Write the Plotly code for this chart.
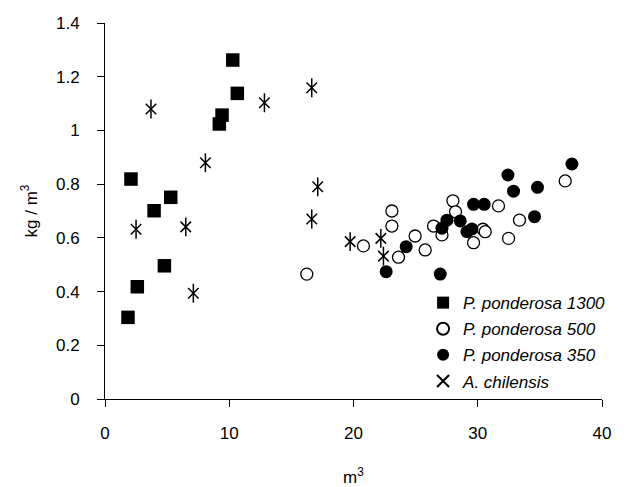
import plotly.graph_objects as go

# P. ponderosa 1300 (filled squares)
pp1300_x = [10.28, 10.65, 9.42, 9.20, 2.09, 5.29, 3.95, 4.78, 2.60, 1.85]
pp1300_y = [1.262, 1.138, 1.057, 1.024, 0.819, 0.751, 0.701, 0.496, 0.418, 0.304]

# P. ponderosa 500 (open circles)
pp500_x = [16.24, 20.80, 23.09, 23.09, 23.62, 24.96, 25.77, 26.44, 27.12, 28.00,
           28.21, 29.66, 30.42, 30.60, 31.67, 32.48, 33.36, 37.04]
pp500_y = [0.465, 0.570, 0.700, 0.644, 0.528, 0.607, 0.555, 0.644, 0.611, 0.738,
           0.697, 0.582, 0.632, 0.623, 0.719, 0.598, 0.666, 0.812]

# P. ponderosa 350 (filled circles)
pp350_x = [22.63, 24.24, 26.98, 27.12, 27.52, 28.59, 29.13, 29.53, 29.66, 30.52,
           32.43, 32.88, 34.81, 34.57, 37.58]
pp350_y = [0.474, 0.567, 0.465, 0.636, 0.666, 0.663, 0.623, 0.633, 0.725, 0.725,
           0.834, 0.774, 0.788, 0.679, 0.875]

# A. chilensis (asterisks)
ac_x = [16.64, 12.83, 3.70, 8.08, 17.12, 16.64, 2.50, 6.50, 7.11, 19.73, 22.20, 22.41]
ac_y = [1.159, 1.103, 1.080, 0.880, 0.790, 0.670, 0.632, 0.641, 0.394, 0.586, 0.598, 0.532]

x_ticks = [0, 10, 20, 30, 40]
y_ticks = [0, 0.2, 0.4, 0.6, 0.8, 1.0, 1.2, 1.4]
y_ticktext = ["0", "0.2", "0.4", "0.6", "0.8", "1", "1.2", "1.4"]

FONT = "Liberation Sans, Arial, sans-serif"

fig = go.Figure()
fig.add_trace(go.Scatter(
    x=pp1300_x, y=pp1300_y, mode="markers", name="P. ponderosa 1300",
    legendgroup="a",
    marker=dict(symbol="square", size=13.5, color="black", line=dict(width=0))))
fig.add_trace(go.Scatter(
    x=pp500_x, y=pp500_y, mode="markers", name="P. ponderosa 500",
    legendgroup="b",
    marker=dict(symbol="circle", size=12, color="white", line=dict(width=1.3, color="black"))))
fig.add_trace(go.Scatter(
    x=pp350_x, y=pp350_y, mode="markers", name="P. ponderosa 350",
    legendgroup="c",
    marker=dict(symbol="circle", size=13, color="black", line=dict(width=0))))
fig.add_trace(go.Scatter(
    x=ac_x, y=ac_y, mode="markers", name="A. chilensis",
    legendgroup="d",
    marker=dict(symbol="x-thin-open", size=10.5, color="black", line=dict(width=1.5, color="black"))))
fig.add_trace(go.Scatter(
    x=ac_x, y=ac_y, mode="markers", name="A. chilensis", showlegend=False,
    legendgroup="d",
    marker=dict(symbol="line-ns-open", size=13.5, color="black", line=dict(width=1.5, color="black"))))

fig.update_layout(
    width=641, height=487,
    margin=dict(l=105, r=39, t=23, b=88),
    paper_bgcolor="white", plot_bgcolor="white",
    font=dict(family=FONT, size=16, color="black"),
    showlegend=True,
    legend=dict(
        x=0.64, y=0.303, xanchor="left", yanchor="top",
        font=dict(family=FONT, size=17, color="black", style="italic"),
        bgcolor="rgba(0,0,0,0)", borderwidth=0,
        tracegroupgap=1, itemsizing="constant",
    ),
    xaxis=dict(
        range=[0, 40], tickvals=x_ticks, ticktext=[str(v) for v in x_ticks],
        automargin=False,
        showgrid=False, zeroline=False, showline=True, linecolor="black", linewidth=1,
        ticks="outside", ticklen=7, tickcolor="black", tickwidth=1,
        ticklabelstandoff=12,
        tickfont=dict(family=FONT, size=17),
        title=dict(text="m<sup>3</sup>", font=dict(family=FONT, size=17), standoff=32),
    ),
    yaxis=dict(
        range=[0, 1.4], tickvals=y_ticks, ticktext=y_ticktext,
        automargin=False,
        showgrid=False, zeroline=False, showline=True, linecolor="black", linewidth=1,
        ticks="outside", ticklen=7, tickcolor="black", tickwidth=1,
        ticklabelstandoff=14,
        tickfont=dict(family=FONT, size=17),
        title=dict(text="kg / m<sup>3</sup>", font=dict(family=FONT, size=17), standoff=14),
    ),
)

# remove the default page margin so the figure sits at the window's corner
fig.write_html("out.html", config={"displayModeBar": False},
               post_script="document.body.style.margin='0';")
